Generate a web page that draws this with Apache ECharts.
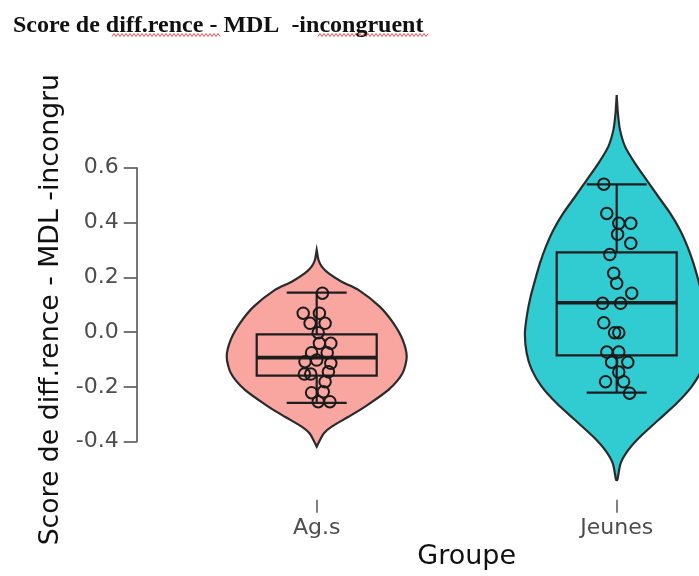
<!DOCTYPE html>
<html><head><meta charset="utf-8">
<script src="https://cdn.jsdelivr.net/npm/echarts@6/dist/echarts.min.js"></script>
<style>html,body{margin:0;padding:0;background:#fff}#c{width:699px;height:576px}</style>
</head><body><div id="c"></div>
<script>
// ---- data ----
const categories = ['Ag.s', 'Jeunes'];
const yTickLabels = ['-0.4', '-0.2', '0.0', '0.2', '0.4', '0.6'];
// violin outlines: value levels and half-widths (in category-band units)
const violinAgsY = [0.300, 0.263, 0.239, 0.215, 0.184, 0.154, 0.093, 0.032, -0.029, -0.090, -0.150, -0.211, -0.272, -0.309, -0.345, -0.369, -0.394, -0.418];
const violinAgsW = [0, 0.006, 0.017, 0.039, 0.083, 0.139, 0.21, 0.256, 0.287, 0.30, 0.286, 0.239, 0.161, 0.106, 0.05, 0.024, 0.011, 0];
const violinJeunesY = [0.865, 0.798, 0.738, 0.677, 0.616, 0.555, 0.494, 0.434, 0.373, 0.312, 0.251, 0.190, 0.129, 0.069, -0.004, -0.077, -0.138, -0.199, -0.260, -0.321, -0.382, -0.430, -0.479, -0.540];
const violinJeunesW = [0, 0.004, 0.011, 0.028, 0.061, 0.1, 0.139, 0.178, 0.211, 0.236, 0.256, 0.272, 0.287, 0.298, 0.306, 0.3, 0.283, 0.25, 0.2, 0.139, 0.078, 0.039, 0.013, 0.002];
// boxplot stats: [lower whisker, Q1, median, Q3, upper whisker]
const boxAgs = [-0.258, -0.159, -0.093, -0.008, 0.144];
const boxJeunes = [-0.221, -0.085, 0.107, 0.291, 0.539];
// individual points (value and horizontal jitter in band units)
const pointsAgsY = [0.142, 0.069, 0.069, 0.032, 0.032, -0.002, -0.041, -0.041, -0.075, -0.075, -0.108, -0.102, -0.114, -0.153, -0.153, -0.145, -0.181, -0.221, -0.218, -0.254, -0.254];
const pointsAgsJitter = [0.019, -0.045, 0.009, -0.022, 0.028, 0.005, 0.009, 0.047, -0.017, 0.035, -0.039, 0, 0.047, -0.041, -0.02, 0.039, 0.028, -0.017, 0.022, 0.005, 0.044];
const pointsJeunesY = [0.540, 0.433, 0.397, 0.397, 0.357, 0.324, 0.283, 0.215, 0.178, 0.142, 0.105, 0.105, 0.034, -0.002, -0.002, -0.073, -0.073, -0.110, -0.110, -0.146, -0.181, -0.181, -0.223];
const pointsJeunesJitter = [-0.043, -0.033, 0.007, 0.047, 0.003, 0.047, -0.023, -0.01, 0, 0.05, -0.047, 0.013, -0.043, -0.007, 0.007, -0.033, 0.007, -0.017, 0.037, 0.007, -0.037, 0.023, 0.043];

// ---- build ----
const violinY = [violinAgsY, violinJeunesY];
const violinW = [violinAgsW, violinJeunesW];
const boxes = [boxAgs, boxJeunes];
const fills = ['#F9A6A0', '#31CCD2'];
const pts = [];
[[pointsAgsY, pointsAgsJitter], [pointsJeunesY, pointsJeunesJitter]].forEach(([ys, js], i) => {
  ys.forEach((v, k) => pts.push([i + js[k], v]));
});

const FONT = 'DejaVu Sans';
const chart = echarts.init(document.getElementById('c'), null, {renderer: 'canvas'});

function squiggle(x0, x1, y) {
  const p = [];
  for (let x = x0, k = 0; x <= x1; x += 2, k++) p.push([x, y + (k % 2 ? -1.5 : 1.5)]);
  return p;
}

chart.setOption({
  animation: false,
  backgroundColor: '#fff',
  title: {
    text: 'Score de diff.rence - MDL  -incongruent',
    left: 8, top: 9,
    textStyle: {fontFamily: 'Liberation Serif', fontWeight: 'bold', fontSize: 24, color: '#111'}
  },
  graphic: [
    {type: 'polyline', shape: {points: squiggle(112, 220, 35)}, style: {stroke: '#e0504a', lineWidth: 1, fill: null}},
    {type: 'polyline', shape: {points: squiggle(318, 429, 35)}, style: {stroke: '#e0504a', lineWidth: 1, fill: null}}
  ],
  grid: {left: 166.7, top: 167.7, right: -67.7, bottom: 134.3, outerBoundsMode: 'none'},
  xAxis: [
    {
      type: 'category', data: categories, boundaryGap: true,
      offset: 58,
      axisLine: {show: false, onZero: false},
      splitLine: {show: false},
      axisTick: {show: true, alignWithLabel: true, length: 13, lineStyle: {color: '#5a5a5a', width: 1.5}},
      axisLabel: {margin: 18, fontFamily: FONT, fontSize: 22, color: '#4d4d4d'},
      name: 'Groupe', nameLocation: 'middle', nameGap: 44,
      nameTextStyle: {fontFamily: FONT, fontSize: 27, color: '#111'}
    },
    {
      type: 'value', min: -0.5, max: 1.5, show: false,
      axisLine: {onZero: false}
    }
  ],
  yAxis: {
    type: 'value', min: -0.4, max: 0.6, interval: 0.2,
    offset: 30,
    axisLine: {show: true, onZero: false, lineStyle: {color: '#555', width: 1.6}},
    splitLine: {show: false},
    axisTick: {show: true, length: 13, lineStyle: {color: '#555', width: 1.6}},
    axisLabel: {margin: 18, formatter: v => yTickLabels[Math.round((v + 0.4) / 0.2)],
      fontFamily: FONT, fontSize: 22, color: '#4d4d4d'},
    name: 'Score de diff.rence - MDL -incongru', nameLocation: 'middle', nameGap: 71,
    nameTextStyle: {fontFamily: FONT, fontSize: 26.7, color: '#111', padding: [0, 10, 0, 0]}
  },
  series: [
    {
      type: 'custom', name: 'violin', clip: false, z: 1, xAxisIndex: 1,
      data: categories.map((c, i) => [i, 0]),
      encode: {x: 0, y: 1},
      renderItem: (params, api) => {
        const i = params.dataIndex, cx = i, ys = violinY[i], ws = violinW[i];
        const p = [];
        for (let k = 0; k < ys.length; k++) p.push(api.coord([cx + ws[k], ys[k]]));
        for (let k = ys.length - 1; k >= 0; k--) p.push(api.coord([cx - ws[k], ys[k]]));
        return {type: 'polygon', shape: {points: p, smooth: 0.25},
          style: {fill: fills[i], stroke: '#2b2b2b', lineWidth: 2.2}};
      }
    },
    {
      type: 'custom', name: 'box', clip: false, z: 2, xAxisIndex: 1,
      data: categories.map((c, i) => [i, 0]),
      encode: {x: 0, y: 1},
      renderItem: (params, api) => {
        const i = params.dataIndex, cx = i, b = boxes[i];
        const c = (x, y) => api.coord([x, y]);
        const st = {stroke: '#1e1e1e', lineWidth: 2.2, fill: null};
        const tl = c(cx - 0.2, b[3]), br = c(cx + 0.2, b[1]);
        return {type: 'group', children: [
          {type: 'line', shape: {x1: c(cx, b[3])[0], y1: c(cx, b[3])[1], x2: c(cx, b[4])[0], y2: c(cx, b[4])[1]}, style: st},
          {type: 'line', shape: {x1: c(cx, b[1])[0], y1: c(cx, b[1])[1], x2: c(cx, b[0])[0], y2: c(cx, b[0])[1]}, style: st},
          {type: 'line', shape: {x1: c(cx - 0.1, b[4])[0], y1: c(cx, b[4])[1], x2: c(cx + 0.1, b[4])[0], y2: c(cx, b[4])[1]}, style: st},
          {type: 'line', shape: {x1: c(cx - 0.1, b[0])[0], y1: c(cx, b[0])[1], x2: c(cx + 0.1, b[0])[0], y2: c(cx, b[0])[1]}, style: st},
          {type: 'rect', shape: {x: tl[0], y: tl[1], width: br[0] - tl[0], height: br[1] - tl[1]}, style: st},
          {type: 'line', shape: {x1: tl[0], y1: c(cx, b[2])[1], x2: br[0], y2: c(cx, b[2])[1]}, style: {stroke: '#1e1e1e', lineWidth: 3.6}}
        ]};
      }
    },
    {
      type: 'scatter', name: 'points', z: 3, clip: false, xAxisIndex: 1,
      data: pts, symbol: 'circle', symbolSize: 11.5,
      itemStyle: {color: 'rgba(0,0,0,0)', borderColor: '#1a1a1a', borderWidth: 2, opacity: 1}
    }
  ]
});
</script></body></html>
